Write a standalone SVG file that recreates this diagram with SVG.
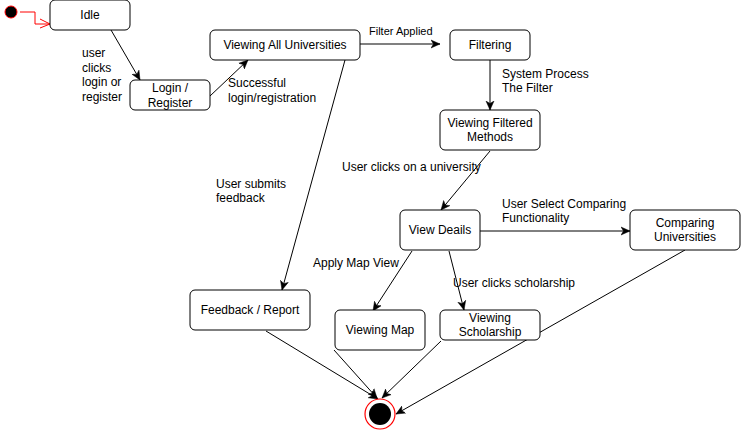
<svg xmlns="http://www.w3.org/2000/svg" width="741" height="431" viewBox="0 0 741 431">
<defs>
<style>
.node rect{fill:#fff;stroke:#000;stroke-width:1}
text{font-family:"Liberation Sans",Arial,sans-serif;font-size:12px;fill:#000}
.c{text-anchor:middle;dominant-baseline:central}
.l{dominant-baseline:central}
.e{fill:none;stroke:#000;stroke-width:1}
</style>
<marker id="arr" markerUnits="userSpaceOnUse" markerWidth="10" markerHeight="10" refX="9" refY="4" orient="auto" viewBox="0 0 10 8">
<path d="M0,0 L9,4 L0,8 L2.5,4 Z" fill="#000" stroke="#000" stroke-width="0.5"/>
</marker>
</defs>
<rect width="741" height="431" fill="#fff"/>

<g id="start">
<circle cx="11" cy="12" r="6" fill="#000" stroke="#f00" stroke-width="1"/>
</g>

<g id="connectors">
<path d="M20,12 H35 V24 H50" fill="none" stroke="#f00" stroke-width="1"/>
<path d="M40,19 L50,24 L40,28" fill="none" stroke="#f00" stroke-width="1"/>
<line class="e" x1="111" y1="30" x2="140" y2="80" marker-end="url(#arr)"/>
<line class="e" x1="210" y1="96" x2="248" y2="60" marker-end="url(#arr)"/>
<line x1="360" y1="44" x2="440" y2="44" stroke="#808080" stroke-width="2" marker-end="url(#arr)"/>
<line class="e" x1="490" y1="60" x2="490" y2="110" marker-end="url(#arr)"/>
<line class="e" x1="490" y1="151" x2="441" y2="210" marker-end="url(#arr)"/>
<line class="e" x1="345" y1="60" x2="282" y2="290" marker-end="url(#arr)"/>
<line class="e" x1="480" y1="231" x2="630" y2="231" marker-end="url(#arr)"/>
<line class="e" x1="412" y1="251" x2="373" y2="311" marker-end="url(#arr)"/>
<line class="e" x1="449" y1="251" x2="464" y2="310" marker-end="url(#arr)"/>
<line class="e" x1="266" y1="331" x2="378" y2="399" marker-end="url(#arr)"/>
<line class="e" x1="334" y1="350" x2="377" y2="398" marker-end="url(#arr)"/>
<line class="e" x1="441" y1="341" x2="382" y2="398" marker-end="url(#arr)"/>
<line class="e" x1="685" y1="250" x2="396" y2="414" marker-end="url(#arr)"/>
</g>

<g id="labels">
<text class="l" x="82" y="53">user</text>
<text class="l" x="82" y="68">clicks</text>
<text class="l" x="82" y="82">login or</text>
<text class="l" x="82" y="97">register</text>
<text class="l" x="228" y="83">Successful</text>
<text class="l" x="228" y="98">login/registration</text>
<text class="l" x="369" y="31" style="font-size:11px">Filter Applied</text>
<text class="l" x="502" y="74">System Process</text>
<text class="l" x="502" y="88">The Filter</text>
<text class="l" x="342" y="167">User clicks on a university</text>
<text class="l" x="216" y="184">User submits</text>
<text class="l" x="216" y="198">feedback</text>
<text class="l" x="502" y="204">User Select Comparing</text>
<text class="l" x="502" y="218">Functionality</text>
<text class="l" x="313" y="263">Apply Map View</text>
<text class="l" x="453" y="283">User clicks scholarship</text>
</g>

<g id="idle" class="node"><rect x="50" y="0" width="80" height="30" rx="5"/><text class="c" x="90" y="15">Idle</text></g>
<g id="login" class="node"><rect x="130" y="80" width="80" height="30" rx="5"/><text class="c" x="170" y="88">Login /</text><text class="c" x="170" y="103">Register</text></g>
<g id="viewing-all" class="node"><rect x="210" y="30" width="150" height="30" rx="5"/><text class="c" x="285" y="45">Viewing All Universities</text></g>
<g id="filtering" class="node"><rect x="450" y="30" width="80" height="30" rx="5"/><text class="c" x="490" y="45">Filtering</text></g>
<g id="viewing-filtered" class="node"><rect x="440" y="110" width="100" height="40" rx="5"/><text class="c" x="490" y="123">Viewing Filtered</text><text class="c" x="490" y="137">Methods</text></g>
<g id="view-details" class="node"><rect x="400" y="210" width="80" height="40" rx="5"/><text class="c" x="440" y="230">View Deails</text></g>
<g id="comparing" class="node"><rect x="630" y="210" width="110" height="40" rx="5"/><text class="c" x="685" y="223">Comparing</text><text class="c" x="685" y="237">Universities</text></g>
<g id="feedback" class="node"><rect x="190" y="290" width="120" height="40" rx="5"/><text class="c" x="250" y="310">Feedback / Report</text></g>
<g id="viewing-map" class="node"><rect x="335" y="310" width="90" height="40" rx="5"/><text class="c" x="380" y="330">Viewing Map</text></g>
<g id="viewing-scholarship" class="node"><rect x="440" y="310" width="100" height="30" rx="5"/><text class="c" x="490" y="318">Viewing</text><text class="c" x="490" y="332">Scholarship</text></g>

<g id="end">
<circle cx="380" cy="414" r="15" fill="#fff" stroke="#f00" stroke-width="1.2"/>
<circle cx="380" cy="414" r="11" fill="#000"/>
</g>
</svg>
